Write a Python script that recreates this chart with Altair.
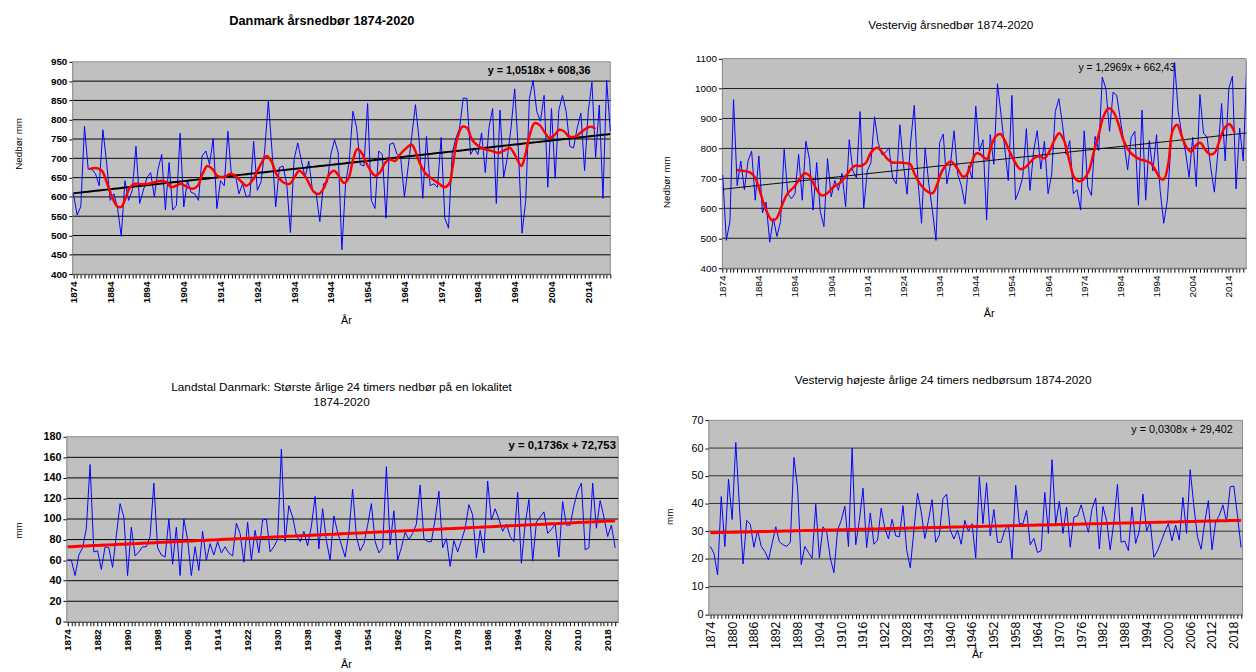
import altair as alt
import pandas as pd

FONT = "Liberation Sans"
YEARS = list(range(1874, 2021))

# Danmark årsnedbør (mm) 1874-2020
dk_year_mm = [608,553,575,783,672,672,660,629,774,690,
              591,608,570,498,642,591,617,731,583,617,
              650,663,600,672,710,566,689,566,578,765,
              574,642,612,608,591,706,719,684,751,570,
              642,629,770,651,659,608,634,600,604,744,
              617,638,719,848,719,574,676,680,634,508,
              697,740,693,651,693,617,608,536,634,638,
              710,748,714,463,634,693,822,779,684,680,
              842,591,570,719,710,545,736,740,710,702,
              600,676,757,839,748,596,757,629,634,625,
              754,545,519,714,752,778,856,855,710,727,
              710,766,663,779,829,583,825,651,702,779,
              880,719,506,591,855,902,821,796,863,625,
              829,648,825,863,821,731,727,779,817,668,
              821,897,702,838,596,902,770]
# smoothed curve (red): years after 1874, mm
dk_smooth_off = [4.3,6.1,7.7,9.2,10.5,11.9,13.0,14.1,15.4,16.8,18.6,20.4,22.1,23.9,25.3,
                 26.6,27.9,29.3,30.6,32.4,33.8,35.1,36.4,37.8,39.1,40.9,42.7,44.0,45.8,47.1,
                 48.9,50.7,52.5,53.8,55.2,57.0,58.8,60.1,61.4,62.9,64.1,65.5,66.8,68.2,69.6,
                 70.9,72.4,73.6,74.8,76.0,77.2,78.4,79.4,80.8,82.1,83.4,84.8,86.1,87.5,88.8,
                 90.6,91.9,92.8,94.1,95.9,97.7,99.5,100.8,102.2,103.1,104.4,105.8,107.1,108.4,
                 110.2,112.0,113.8,115.6,116.9,118.7,120.0,121.8,122.7,124.1,125.4,126.8,128.1,
                 129.4,130.8,132.1,133.4,134.8,136.6,137.9,139.7,141.0,141.9]
dk_smooth_mm = [672,675,668,634,600,576,574,595,625,634,633,634,638,642,638,
                625,629,634,627,621,629,659,680,672,655,651,660,655,638,629,
                646,680,706,693,659,638,634,651,668,655,634,612,608,625,659,
                668,651,636,648,695,724,714,693,668,655,664,689,697,693,710,
                727,736,723,689,659,646,634,625,634,676,752,782,778,748,
                731,723,719,714,719,727,710,680,702,761,791,786,768,
                753,760,774,770,757,757,766,779,782,776]

# Vestervig årsnedbør (mm)
vv_year_mm = [712,493,556,963,676,758,662,758,791,627,
              775,585,621,487,567,506,556,797,649,632,
              649,780,627,824,764,594,753,589,539,766,
              638,693,660,717,605,829,725,701,923,599,
              725,753,906,819,780,786,802,701,682,879,
              747,647,824,944,693,550,802,682,594,493,
              819,848,682,747,859,714,676,614,742,698,
              941,791,829,561,846,747,1016,912,802,693,
              977,629,660,704,866,660,791,859,731,824,
              649,714,923,966,879,780,826,649,662,594,
              859,671,643,840,793,1038,999,857,988,977,
              895,819,728,837,857,610,928,627,826,725,
              846,660,550,627,813,1087,923,846,791,704,
              837,673,980,851,837,736,654,791,950,758,
              1000,1041,665,868,758,1090,800]
vv_smooth_off = [3.9,5.7,7.5,8.9,10.2,12.0,13.7,14.9,16.6,17.9,19.7,21.3,22.7,24.0,25.6,
                 27.4,28.8,30.6,32.4,33.8,35.1,36.5,38.3,39.7,41.0,42.8,44.2,45.6,46.9,48.7,
                 50.5,51.9,53.1,54.9,56.9,58.1,59.2,60.5,61.9,63.2,65.0,66.4,67.3,68.7,70.0,
                 71.1,72.3,73.2,74.1,75.5,76.8,78.2,79.5,80.9,82.3,83.6,85.0,86.3,87.7,89.0,
                 90.4,91.8,93.1,94.5,95.9,97.2,98.6,99.9,101.3,102.6,104.0,105.3,106.7,108.0,
                 109.4,110.8,112.1,113.5,115.3,117.2,118.5,119.8,121.2,122.1,123.3,124.4,125.7,
                 127.0,128.4,129.6,130.7,132.1,133.4,134.8,136.1,137.5,138.8,140.2,141.6]
vv_smooth_mm = [728,725,720,704,660,594,559,567,616,649,671,698,717,709,671,
                643,649,671,684,704,725,742,742,753,786,802,786,764,753,753,
                751,747,714,676,654,651,676,720,747,756,731,706,709,747,782,
                782,769,765,802,840,848,822,786,753,731,736,753,769,775,767,
                791,829,851,824,758,704,690,698,725,786,846,906,934,923,
                884,829,797,778,764,758,750,725,698,698,753,857,879,
                840,802,789,808,819,797,780,786,829,868,881,854]

# Landstal Danmark: største årlige 24 timers nedbør (mm)
dk_max24_mm = [60,60,45,65,72,91,153,68,69,51,
               73,72,53,84,115,102,45,92,64,68,
               73,73,83,135,72,65,63,100,56,92,
               45,100,80,45,73,50,88,60,76,65,
               78,67,73,67,64,96,86,58,97,60,
               89,67,99,100,68,73,80,168,78,113,
               102,84,78,88,74,93,122,71,110,79,
               60,103,87,75,63,87,129,83,69,76,
               94,115,78,67,72,151,75,108,60,72,
               87,80,86,95,133,81,78,78,100,127,
               72,81,54,79,68,79,91,114,104,62,
               89,67,137,99,110,100,88,95,83,78,
               126,57,95,119,59,97,102,107,86,90,
               95,63,117,94,94,113,127,135,70,72,
               135,91,118,102,83,94,72]

# Vestervig højeste årlige 24 timers nedbørsum (mm)
vv_max24_mm = [24.5,22,14.2,42.5,24.5,48.7,34.2,62,39.2,18.2,
               33.9,32.5,24.2,30.4,24.5,22.7,19.7,25.6,31.6,26.2,
               25.1,24.5,26,56.6,45.7,18,24.5,22.3,20.3,39.7,
               20.3,31.6,29.8,20.3,15,30.4,33.9,39,24.5,60,
               25.1,33.9,45.5,24.1,36.6,25.3,26.8,38.3,31,27.2,
               34.3,28.3,28,39.2,23.3,16.8,30.4,43.7,37.1,27.4,
               33.9,41.4,26,28.6,41.8,43.4,30.4,27.2,30.4,25.3,
               33.9,30,32.7,20.3,49.6,32.7,47.5,28.3,37.8,26,
               26,30.4,32.2,20.1,46.6,32.7,32.7,37.5,25.1,27.4,
               22.3,23,44,29.2,55.8,32.7,40.8,29.2,38.7,24.2,
               35.1,35.5,39.5,34.5,29.6,38.1,42,23.6,38.9,33.9,
               23.3,33.3,46.9,26,26.5,23,38.7,25.6,30,43.4,
               30,33.3,20.6,22.9,26.2,29.8,32.7,26.5,32.2,26.8,
               42.2,29.2,52.2,39.2,28,23.5,33.3,41,23.3,33.3,
               35.7,39.5,33.3,46,46.3,35.7,24.1]

for arr in (dk_year_mm, vv_year_mm, dk_max24_mm, vv_max24_mm):
    assert len(arr) == len(YEARS)
assert len(dk_smooth_off) == len(dk_smooth_mm)
assert len(vv_smooth_off) == len(vv_smooth_mm)


def panel(values, *, xdom, xrange, width, ydom, yrange, height, ystep, grid_vals,
          grid_color, label_step, xmax_tick, trend_a, trend_b, trend_color,
          trend_width, title, title_kw, eq_text, eq_x, eq_y, eq_align, eq_size,
          eq_weight, ytitle, ytitle_x, ytitle_y, xtitle_x, xtitle_y, yoffset,
          ylab_size, xlab_size, lab_weight, smooth=None, clip=False):
    xs = alt.Scale(domain=xdom, range=xrange, nice=False, zero=False)
    ys = alt.Scale(domain=ydom, range=yrange, nice=False, zero=False)
    xaxis = alt.Axis(
        values=list(range(1874, xmax_tick + 1)),
        labelExpr=f"(datum.value - 1874) % {label_step} == 0 ? datum.value : ''",
        labelAngle=270, labelFont=FONT, labelFontSize=xlab_size, labelFontWeight=lab_weight,
        labelColor="black", labelOverlap=False, labelBound=False, labelFlush=False,
        labelPadding=3, tickSize=4, tickColor="black", domainColor="black", grid=False,
        title="År", titleFont=FONT, titleFontSize=11, titleFontWeight="normal",
        titleColor="black", titleX=xtitle_x, titleY=xtitle_y, titleAlign="center",
        titleBaseline="middle", titleAnchor="start")
    yaxis = alt.Axis(
        values=list(range(ydom[0], ydom[1] + 1, ystep)), format="d",
        labelFont=FONT, labelFontSize=ylab_size, labelFontWeight=lab_weight,
        labelColor="black", labelPadding=2, tickSize=4, tickColor="black",
        domainColor="black", grid=False, offset=yoffset,
        title=ytitle, titleFont=FONT, titleFontSize=10, titleFontWeight="normal",
        titleColor="black", titleAngle=270, titleX=ytitle_x, titleY=ytitle_y,
        titleAlign="center", titleBaseline="middle", titleAnchor="start")

    def X(field):
        return alt.X(field, scale=xs, axis=xaxis)

    def Y(field):
        return alt.Y(field, scale=ys, axis=yaxis)

    bg_df = pd.DataFrame({"x0": [xdom[0]], "x1": [xdom[1]], "y0": [ydom[0]], "y1": [ydom[1]]})
    bg = alt.Chart(bg_df).mark_rect(fill="#C0C0C0", stroke="#8C8C8C", strokeWidth=1).encode(
        x=X("x0:Q"), x2="x1:Q", y=Y("y0:Q"), y2="y1:Q")

    g_df = pd.DataFrame({"v": grid_vals, "a": xdom[0], "b": xdom[1]})
    grid = alt.Chart(g_df).mark_rule(color=grid_color, strokeWidth=1).encode(
        x=X("a:Q"), x2="b:Q", y=Y("v:Q"))

    df = pd.DataFrame({"year": YEARS, "mm": values, "n": range(1, len(YEARS) + 1)})
    base = alt.Chart(df)
    blue = base.mark_line(color="#0000FF", strokeWidth=1, clip=clip).encode(
        x=X("year:Q"), y=Y("mm:Q"))
    trend = base.transform_calculate(
        trend=f"{trend_a} * datum.n + {trend_b}"
    ).mark_line(color=trend_color, strokeWidth=trend_width, clip=clip).encode(
        x=X("year:Q"), y=Y("trend:Q"))

    layers = [bg, grid, blue, trend]
    if smooth is not None:
        off, vals = smooth
        s_df = pd.DataFrame({"year": [1874 + o for o in off], "mm": vals})
        red = alt.Chart(s_df).mark_line(color="#FF0000", strokeWidth=2.5,
                                        interpolate="catmull-rom", clip=clip).encode(
            x=X("year:Q"), y=Y("mm:Q"))
        layers.append(red)

    e_df = pd.DataFrame({"x": [eq_x], "y": [eq_y], "t": [eq_text]})
    eq = alt.Chart(e_df).mark_text(align=eq_align, baseline="middle", font=FONT,
                                   fontSize=eq_size, fontWeight=eq_weight, color="black").encode(
        x=X("x:Q"), y=Y("y:Q"), text="t:N")
    layers.append(eq)

    return alt.layer(*layers).properties(
        width=width, height=height,
        title=alt.TitleParams(text=title, font=FONT, color="black", anchor="middle",
                              frame="group", baseline="bottom", **title_kw))


p1 = panel(dk_year_mm,
           xdom=[1873.8, 2020], xrange=[0, 547], width=547,
           ydom=[400, 950], yrange=[216, 0], height=216, ystep=50,
           grid_vals=list(range(450, 901, 50)), grid_color="black", label_step=10, xmax_tick=2020,
           trend_a=1.0518, trend_b=608.36, trend_color="black", trend_width=2,
           title="Danmark årsnedbør 1874-2020",
           title_kw=dict(fontSize=13, fontWeight="bold", dx=-20, offset=16),
           eq_text="y = 1,0518x + 608,36", eq_x=2014.6, eq_y=925, eq_align="right",
           eq_size=11, eq_weight="bold",
           ytitle="Nedbør mm", ytitle_x=-55, ytitle_y=83, xtitle_x=278, xtitle_y=47,
           yoffset=0, ylab_size=10, xlab_size=10, lab_weight="bold",
           smooth=(dk_smooth_off, dk_smooth_mm))

p2 = panel(vv_year_mm,
           xdom=[1873.9, 2018.8], xrange=[0, 533], width=533,
           ydom=[400, 1100], yrange=[210, -3.3], height=210, ystep=100,
           grid_vals=list(range(500, 1001, 100)), grid_color="#1a1a1a", label_step=10, xmax_tick=2018,
           trend_a=1.2969, trend_b=662.43, trend_color="black", trend_width=1,
           title="Vestervig årsnedbør 1874-2020",
           title_kw=dict(fontSize=12, fontWeight="normal", dx=-34, offset=10.5),
           eq_text="y = 1,2969x + 662,43", eq_x=1985.8, eq_y=1068, eq_align="center",
           eq_size=10.5, eq_weight="normal",
           ytitle="Nedbør mm", ytitle_x=-57, ytitle_y=122, xtitle_x=271, xtitle_y=46,
           yoffset=0, ylab_size=10, xlab_size=10, lab_weight="normal",
           smooth=(vv_smooth_off, vv_smooth_mm), clip=True)

p3 = panel(dk_max24_mm,
           xdom=[1873.8, 2020.8], xrange=[-6, 555], width=555,
           ydom=[0, 180], yrange=[188.3, 0], height=188.3, ystep=20,
           grid_vals=list(range(20, 161, 20)), grid_color="black", label_step=8, xmax_tick=2020,
           trend_a=0.1736, trend_b=72.753, trend_color="#FF0000", trend_width=3,
           title=["Landstal Danmark: Største årlige 24 timers nedbør på en lokalitet", "1874-2020"],
           title_kw=dict(fontSize=12, fontWeight="normal", dx=-4, offset=10, lineHeight=16),
           eq_text="y = 0,1736x + 72,753", eq_x=2020.2, eq_y=171, eq_align="right",
           eq_size=11.5, eq_weight="bold",
           ytitle="mm", ytitle_x=-49, ytitle_y=95, xtitle_x=278, xtitle_y=43,
           yoffset=6, ylab_size=11, xlab_size=10, lab_weight="bold")

p4 = panel(vv_max24_mm,
           xdom=[1873.6, 2020.4], xrange=[-13.7, 529.3], width=529.3,
           ydom=[0, 70], yrange=[180.7, -16.7], height=180.7, ystep=10,
           grid_vals=list(range(10, 61, 10)), grid_color="#333333", label_step=6, xmax_tick=2020,
           trend_a=0.0308, trend_b=29.402, trend_color="#FF0000", trend_width=3,
           title="Vestervig højeste årlige 24 timers nedbørsum 1874-2020",
           title_kw=dict(fontSize=12, fontWeight="normal", dx=-40, offset=16),
           eq_text="y = 0,0308x + 29,402", eq_x=2017.7, eq_y=66.4, eq_align="right",
           eq_size=11, eq_weight="normal",
           ytitle="mm", ytitle_x=-39.7, ytitle_y=81, xtitle_x=259, xtitle_y=41,
           yoffset=13.7, ylab_size=11, xlab_size=12.5, lab_weight="normal")

chart = alt.concat(p1, p2, p3, p4, columns=2, bounds="flush", align="all",
                   spacing={"row": 165.5, "column": 106}).resolve_scale(
    x="independent", y="independent").properties(
    padding={"left": 14, "top": 10, "right": 0, "bottom": 0},
    background="white").configure_view(stroke="transparent", strokeWidth=0)

chart.save("out.html", embed_options={"renderer": "svg", "actions": False})
